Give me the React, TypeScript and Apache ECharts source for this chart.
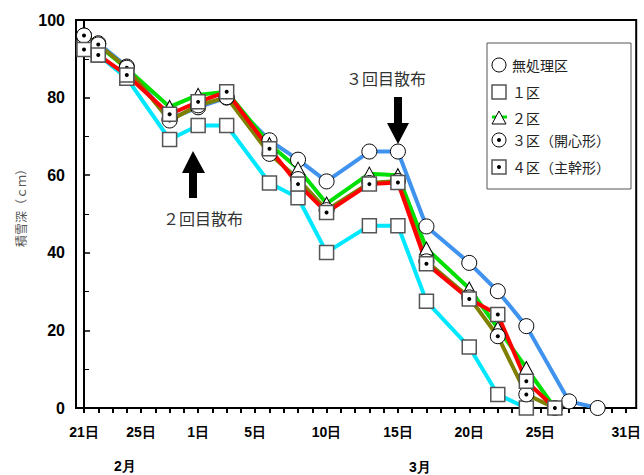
import React, { useEffect, useRef } from 'react';
import * as echarts from 'echarts';

// Day index: 0 = 2月21日
const dayIndex = [0, 1, 3, 6, 8, 10, 13, 15, 17, 20, 22, 24, 27, 29, 31, 33, 34, 36];
const seriesNames = ['無処理区', '１区', '２区', '３区（開心形）', '４区（主幹形）'];
const noTreat = [96, 94, 88, 74.5, 77.5, 80, 69, 64, 58.4, 66.1, 66.1, 46.8, 37.4, 30.1, 21.1, null, 1.7, 0];
const plot1 = [93, 91, 85, 69.2, 72.8, 72.8, 58, 54.2, 40.1, 47, 47, 27.5, 15.7, 3.5, 0, null, null, null];
const plot2 = [95, 93.5, 87.5, 77.6, 80.7, 81.5, 68, 61.7, 52.7, 60.4, 60, 41.1, 30.8, 20.6, 10.3, 0, null, null];
const plot3 = [96, 93.7, 87.7, 74.1, 78, 80.1, 65.5, 59, 51, 58, 58.5, 37.8, 28.5, 18.5, 3.5, 0, null, null];
const plot4 = [92.4, 91, 85.8, 75.7, 78.9, 81.5, 66.8, 57.7, 50.4, 57.7, 58.1, 37.2, 28.1, 24.1, 6.9, 0, null, null];

const xTickDays = [0, 4, 8, 12, 17, 22, 27, 32, 38];
const xTickLabels = ['21日', '25日', '1日', '5日', '10日', '15日', '20日', '25日', '31日'];
const allDays = Array.from({ length: 39 }, (_, i) => i);
const monthLabels = ['2月', '3月'];
const yAxisName = '積雪深（ｃｍ）';
const notes = ['２回目散布', '３回目散布'];

const CJK = '"Noto Sans CJK JP", sans-serif';
const LAT = '"Liberation Sans", Arial, sans-serif';

function pairs(vals: (number | null)[]) {
  const out: number[][] = [];
  vals.forEach((v, i) => {
    if (v !== null) out.push([dayIndex[i], v]);
  });
  return out;
}

export default function App() {
  const ref = useRef<HTMLDivElement>(null);
  useEffect(() => {
    if (!ref.current) return;
    const chart = echarts.init(ref.current, undefined, { renderer: 'svg' });
    const datas = [noTreat, plot1, plot2, plot3, plot4].map(pairs);
    const colors = ['#3f93ee', '#00e8ff', '#00e000', '#7f7f00', '#ff0000'];
    const lineOrder = [0, 1, 2, 3, 4];
    const lineSeries = lineOrder.map((i) => ({
      type: 'line',
      name: seriesNames[i] + '_line',
      data: datas[i],
      z: 2,
      showSymbol: false,
      symbol: 'none',
      lineStyle: { color: colors[i], width: 4 },
      itemStyle: { color: colors[i] },
      silent: true,
    }));
    const markerBase = { color: '#fff', borderColor: '#000', borderWidth: 1, opacity: 1 };
    const sq = { color: '#fff', borderColor: '#555', borderWidth: 1.5, opacity: 1 };
    const dot = { color: '#000', opacity: 1 };
    const markerSeries: any[] = [
      { type: 'scatter', z: 5, name: seriesNames[0], data: datas[0], symbol: 'circle', symbolSize: 15, itemStyle: markerBase },
      { type: 'scatter', z: 5, name: seriesNames[2], data: datas[2], symbol: 'triangle', symbolSize: [14, 13], itemStyle: markerBase },
      { type: 'scatter', z: 5, name: seriesNames[1], data: datas[1], symbol: 'rect', symbolSize: 14, itemStyle: sq },
      { type: 'scatter', z: 5, name: seriesNames[3], data: datas[3], symbol: 'circle', symbolSize: 15, itemStyle: markerBase },
      { type: 'scatter', z: 5, name: seriesNames[3] + '_dot', data: datas[3], symbol: 'circle', symbolSize: 4, itemStyle: dot },
      { type: 'scatter', z: 5, name: seriesNames[4], data: datas[4], symbol: 'rect', symbolSize: 14, itemStyle: sq },
      { type: 'scatter', z: 5, name: seriesNames[4] + '_dot', data: datas[4], symbol: 'circle', symbolSize: 4, itemStyle: dot },
    ];

    const legendY = [65, 92, 118, 140, 167];
    const lx = 499;
    const legendGraphics: any[] = [
      { type: 'rect', z: 100, shape: { x: 487, y: 43, width: 144, height: 146 }, style: { fill: '#fff', stroke: '#555', lineWidth: 1 } },
      { type: 'circle', z: 101, shape: { cx: lx, cy: legendY[0], r: 7 }, style: { fill: '#fff', stroke: '#000', lineWidth: 1 } },
      { type: 'rect', z: 101, shape: { x: lx - 7, y: legendY[1] - 7, width: 14, height: 14 }, style: { fill: '#fff', stroke: '#555', lineWidth: 1.5 } },
      { type: 'line', z: 101, shape: { x1: lx - 7, y1: legendY[2] - 1, x2: lx + 8, y2: legendY[2] - 1 }, style: { stroke: '#00e000', lineWidth: 3 } },
      { type: 'polygon', z: 102, shape: { points: [[lx, legendY[2] - 7], [lx + 7, legendY[2] + 6], [lx - 7, legendY[2] + 6]] }, style: { fill: '#fff', stroke: '#000', lineWidth: 1 } },
      { type: 'circle', z: 101, shape: { cx: lx, cy: legendY[3], r: 7 }, style: { fill: '#fff', stroke: '#000', lineWidth: 1 } },
      { type: 'circle', z: 102, shape: { cx: lx, cy: legendY[3], r: 2 }, style: { fill: '#000' } },
      { type: 'rect', z: 101, shape: { x: lx - 7, y: legendY[4] - 7, width: 14, height: 14 }, style: { fill: '#fff', stroke: '#555', lineWidth: 1.5 } },
      { type: 'circle', z: 102, shape: { cx: lx, cy: legendY[4], r: 2 }, style: { fill: '#000' } },
      ...seriesNames.map((n, i) => ({
        type: 'text', z: 101, x: 512, y: legendY[i],
        style: { text: n, fill: '#222', font: `14px ${CJK}`, verticalAlign: 'middle' },
      })),
    ];

    const annotGraphics: any[] = [
      { type: 'polygon', z: 50, shape: { points: [[189, 198], [197, 198], [197, 173], [205, 173], [193, 151], [182, 173], [189, 173]] }, style: { fill: '#000' } },
      { type: 'polygon', z: 50, shape: { points: [[394, 97], [402, 97], [402, 123], [409, 123], [398, 144], [387, 123], [394, 123]] }, style: { fill: '#000' } },
      { type: 'text', z: 50, x: 163, y: 218, style: { text: notes[0], fill: '#333', font: `16px ${CJK}`, verticalAlign: 'middle' } },
      { type: 'text', z: 50, x: 346, y: 78, style: { text: notes[1], fill: '#333', font: `16px ${CJK}`, verticalAlign: 'middle' } },
      { type: 'text', x: 125, y: 466, style: { text: monthLabels[0], fill: '#000', font: `bold 14px ${LAT}`, align: 'center', verticalAlign: 'middle' } },
      { type: 'text', x: 420, y: 467, style: { text: monthLabels[1], fill: '#000', font: `bold 14px ${LAT}`, align: 'center', verticalAlign: 'middle' } },
      { type: 'text', x: 20, y: 205, rotation: Math.PI / 2, style: { text: yAxisName, fill: '#555', font: `12px ${CJK}`, align: 'center', verticalAlign: 'middle' } },
    ];

    chart.setOption({
      animation: false,
      backgroundColor: '#fff',
      grid: { left: 76, right: 7, top: 20, bottom: 67, show: true, borderColor: '#000', borderWidth: 2, backgroundColor: 'transparent' },
      xAxis: {
        type: 'value',
        min: -0.56,
        max: 38.7,
        axisLine: { lineStyle: { color: '#000', width: 2 } },
        axisTick: { show: true, customValues: allDays, length: 5, lineStyle: { color: '#000', width: 2 } },
        axisLabel: {
          customValues: xTickDays,
          formatter: (v: number) => {
            const k = xTickDays.indexOf(Math.round(v));
            return k >= 0 ? xTickLabels[k] : '';
          },
          margin: 17,
          color: '#000',
          fontWeight: 'bold',
          fontSize: 14,
          fontFamily: LAT,
        },
        splitLine: { show: false },
      },
      yAxis: {
        type: 'value',
        min: 0,
        max: 100,
        interval: 20,
        axisLine: { show: true, lineStyle: { color: '#000', width: 2 } },
        axisTick: { show: true, inside: true, length: 6, lineStyle: { color: '#000', width: 1.5 } },
        minorTick: { show: true, splitNumber: 2, length: 5, lineStyle: { color: '#000', width: 1 } },
        axisLabel: { margin: 11, color: '#000', fontWeight: 'bold', fontSize: 16, fontFamily: LAT },
        splitLine: { show: false },
      },
      graphic: [...annotGraphics, ...legendGraphics],
      series: [...lineSeries, ...markerSeries],
    } as any);
    return () => chart.dispose();
  }, []);
  return <div ref={ref} style={{ position: 'fixed', left: 0, top: 0, width: 644, height: 475 }} />;
}
